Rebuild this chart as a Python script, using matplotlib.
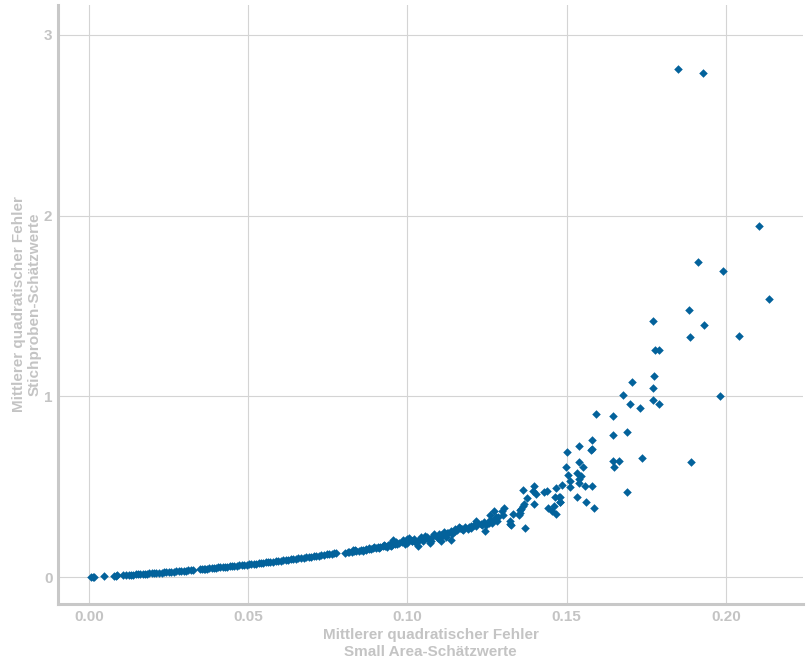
import matplotlib
matplotlib.use("Agg")
import matplotlib.pyplot as plt

plt.rcParams['font.family'] = ['Liberation Sans', 'DejaVu Sans']

# Mean squared error: small-area estimates (x) vs. direct sample estimates (y)
band_x = [0.0008, 0.0013, 0.0017, 0.0047, 0.0080, 0.0084, 0.0088, 0.0108, 0.0115, 0.0125,
          0.0131, 0.0140, 0.0148, 0.0155, 0.0162, 0.0170, 0.0176, 0.0183, 0.0190, 0.0198,
          0.0205, 0.0212, 0.0220, 0.0228, 0.0236, 0.0243, 0.0250, 0.0258, 0.0266, 0.0274,
          0.0282, 0.0290, 0.0298, 0.0305, 0.0312, 0.0320, 0.0328, 0.0350, 0.0355, 0.0360,
          0.0366, 0.0372, 0.0378, 0.0385, 0.0392, 0.0398, 0.0405, 0.0412, 0.0420, 0.0428,
          0.0435, 0.0442, 0.0450, 0.0457, 0.0465, 0.0472, 0.0480, 0.0487, 0.0495, 0.0502,
          0.0510, 0.0518, 0.0525, 0.0533, 0.0540, 0.0548, 0.0556, 0.0563, 0.0570, 0.0578,
          0.0586, 0.0594, 0.0602, 0.0610, 0.0618, 0.0626, 0.0634, 0.0642, 0.0650, 0.0658,
          0.0666, 0.0674, 0.0682, 0.0690, 0.0698, 0.0706, 0.0714, 0.0722, 0.0730, 0.0738,
          0.0746, 0.0754, 0.0762, 0.0770, 0.0776, 0.0805, 0.0812, 0.0818, 0.0825, 0.0832,
          0.0840, 0.0848, 0.0855, 0.0862, 0.0870, 0.0878, 0.0885, 0.0892, 0.0900, 0.0908,
          0.0915, 0.0922, 0.0930, 0.0938, 0.0945, 0.0952, 0.0960, 0.0968, 0.0975]
band_y = [0.001, 0.001, 0.002, 0.004, 0.008, 0.008, 0.009, 0.011, 0.011, 0.012,
          0.013, 0.014, 0.015, 0.016, 0.017, 0.018, 0.018, 0.019, 0.020, 0.021,
          0.022, 0.023, 0.024, 0.025, 0.026, 0.027, 0.028, 0.029, 0.030, 0.031,
          0.031, 0.034, 0.035, 0.036, 0.037, 0.038, 0.039, 0.043, 0.044, 0.045,
          0.046, 0.047, 0.048, 0.049, 0.050, 0.051, 0.053, 0.054, 0.055, 0.057,
          0.058, 0.059, 0.061, 0.062, 0.063, 0.065, 0.066, 0.068, 0.069, 0.070,
          0.072, 0.074, 0.075, 0.077, 0.078, 0.080, 0.081, 0.083, 0.084, 0.086,
          0.088, 0.089, 0.091, 0.093, 0.095, 0.096, 0.098, 0.100, 0.102, 0.104,
          0.106, 0.107, 0.109, 0.111, 0.113, 0.115, 0.117, 0.119, 0.121, 0.123,
          0.125, 0.127, 0.129, 0.131, 0.132, 0.136, 0.138, 0.140, 0.141, 0.143,
          0.145, 0.147, 0.150, 0.152, 0.154, 0.156, 0.158, 0.160, 0.163, 0.165,
          0.168, 0.170, 0.172, 0.175, 0.177, 0.180, 0.183, 0.185, 0.188]

mid_x = [0.0835, 0.0870, 0.0895, 0.0912, 0.0935, 0.0925, 0.0950, 0.0965, 0.0985, 0.0880,
         0.0860, 0.0828, 0.0950, 0.0955, 0.0982, 0.0991, 0.0998, 0.1013, 0.0985, 0.1000,
         0.1005, 0.1020, 0.1025, 0.1040, 0.1050, 0.1060, 0.1065, 0.1075, 0.1080, 0.1095,
         0.1100, 0.1110, 0.1120, 0.1125, 0.1140, 0.1150, 0.1155, 0.1165, 0.1175, 0.1180,
         0.1190, 0.1200, 0.1215, 0.1220, 0.1235, 0.1240, 0.1260, 0.1265, 0.1275, 0.1285,
         0.1013, 0.1035, 0.1032, 0.1044, 0.1054, 0.1070, 0.1092, 0.1085, 0.1107, 0.1104,
         0.1114, 0.1138, 0.1129, 0.1136, 0.1148, 0.1161, 0.1170, 0.1192, 0.1201, 0.1208,
         0.1214, 0.1230, 0.1245, 0.1248, 0.1255, 0.1267, 0.1280, 0.1271, 0.1258, 0.1277,
         0.1302, 0.1296, 0.1299, 0.1321, 0.1321, 0.1324, 0.1330, 0.1349, 0.1355, 0.1362,
         0.1366, 0.1368, 0.1353, 0.1358]
mid_y = [0.150, 0.148, 0.167, 0.160, 0.166, 0.180, 0.172, 0.192, 0.202, 0.163,
         0.145, 0.148, 0.186, 0.205, 0.195, 0.184, 0.212, 0.201, 0.205, 0.190,
         0.215, 0.208, 0.195, 0.212, 0.200, 0.220, 0.210, 0.200, 0.225, 0.215,
         0.240, 0.228, 0.220, 0.245, 0.240, 0.255, 0.262, 0.270, 0.258, 0.275,
         0.268, 0.285, 0.280, 0.300, 0.290, 0.305, 0.318, 0.300, 0.322, 0.330,
         0.201, 0.206, 0.173, 0.223, 0.229, 0.190, 0.223, 0.240, 0.201, 0.234,
         0.251, 0.206, 0.245, 0.256, 0.268, 0.278, 0.268, 0.278, 0.273, 0.290,
         0.312, 0.295, 0.256, 0.290, 0.301, 0.312, 0.312, 0.367, 0.345, 0.334,
         0.384, 0.367, 0.345, 0.295, 0.312, 0.290, 0.350, 0.345, 0.373, 0.395,
         0.406, 0.270, 0.356, 0.378]

high_x = [0.1362, 0.1377, 0.1396, 0.1399, 0.1393, 0.1405, 0.1428, 0.1437, 0.1440, 0.1459,
          0.1455, 0.1465, 0.1468, 0.1462, 0.1475, 0.1478, 0.1479, 0.1479, 0.1484, 0.1497,
          0.1500, 0.1503, 0.1512, 0.1512, 0.1531, 0.1534, 0.1538, 0.1538, 0.1538, 0.1538,
          0.1544, 0.1550, 0.1559, 0.1562, 0.1575, 0.1578, 0.1578, 0.1578, 0.1585, 0.1591,
          0.1644, 0.1644, 0.1647, 0.1650, 0.1663, 0.1676, 0.1691, 0.1691, 0.1698, 0.1704,
          0.1729, 0.1735, 0.1771, 0.1771, 0.1771, 0.1773, 0.1776, 0.1789, 0.1789, 0.1848,
          0.1883, 0.1887, 0.1889, 0.1911, 0.1927, 0.1930, 0.1981, 0.1990, 0.2040, 0.2104,
          0.2134]
high_y = [0.483, 0.439, 0.406, 0.505, 0.478, 0.461, 0.472, 0.478, 0.384, 0.395,
          0.367, 0.350, 0.494, 0.444, 0.444, 0.417, 0.444, 0.417, 0.511, 0.610,
          0.694, 0.566, 0.533, 0.500, 0.577, 0.444, 0.727, 0.638, 0.544, 0.522,
          0.561, 0.610, 0.505, 0.417, 0.705, 0.760, 0.710, 0.505, 0.384, 0.904,
          0.788, 0.644, 0.893, 0.610, 0.644, 1.009, 0.804, 0.472, 0.959, 1.081,
          0.937, 0.660, 1.419, 1.048, 0.981, 1.114, 1.258, 1.258, 0.959, 2.813,
          1.479, 1.330, 0.638, 1.745, 2.791, 1.397, 1.003, 1.695, 1.336, 1.945,
          1.540]

x_ticks = [0.00, 0.05, 0.10, 0.15, 0.20]
x_tick_labels = ["0.00", "0.05", "0.10", "0.15", "0.20"]
y_ticks = [0, 1, 2, 3]
y_tick_labels = ["0", "1", "2", "3"]

xs = band_x + mid_x + high_x
ys = band_y + mid_y + high_y

point_color = "#03629b"
grey = "#c8c8c8"
text_grey = "#c4c4c4"

fig = plt.figure(figsize=(8.11, 6.69), dpi=100)
ax = fig.add_axes([58 / 811, 1 - 604 / 669, (803 - 58) / 811, (604 - 5) / 669])

ax.scatter(xs, ys, marker="D", s=19, color=point_color, linewidths=0, zorder=3)

ax.set_xlim(-0.0097, 0.2242)
ax.set_ylim(-0.149, 3.166)
ax.set_xticks(x_ticks)
ax.set_xticklabels(x_tick_labels)
ax.set_yticks(y_ticks)
ax.set_yticklabels(y_tick_labels)

ax.grid(True, color="#d4d4d4", linewidth=0.8, zorder=0)
ax.set_axisbelow(True)

for side in ["top", "right"]:
    ax.spines[side].set_visible(False)
for side in ["left", "bottom"]:
    ax.spines[side].set_color(grey)
    ax.spines[side].set_linewidth(2.2)

ax.tick_params(axis="both", length=0, pad=4, labelsize=11, labelcolor=text_grey)
for lab in ax.get_xticklabels() + ax.get_yticklabels():
    lab.set_fontweight("bold")

ax.set_xlabel("Mittlerer quadratischer Fehler\nSmall Area-Schätzwerte",
              fontsize=11, fontweight="bold", color=text_grey, labelpad=3, linespacing=1.3)
ax.set_ylabel("Mittlerer quadratischer Fehler\nStichproben-Schätzwerte",
              fontsize=11, fontweight="bold", color=text_grey, labelpad=2, linespacing=1.15)

fig.savefig("out.png", dpi=100, facecolor="white")
